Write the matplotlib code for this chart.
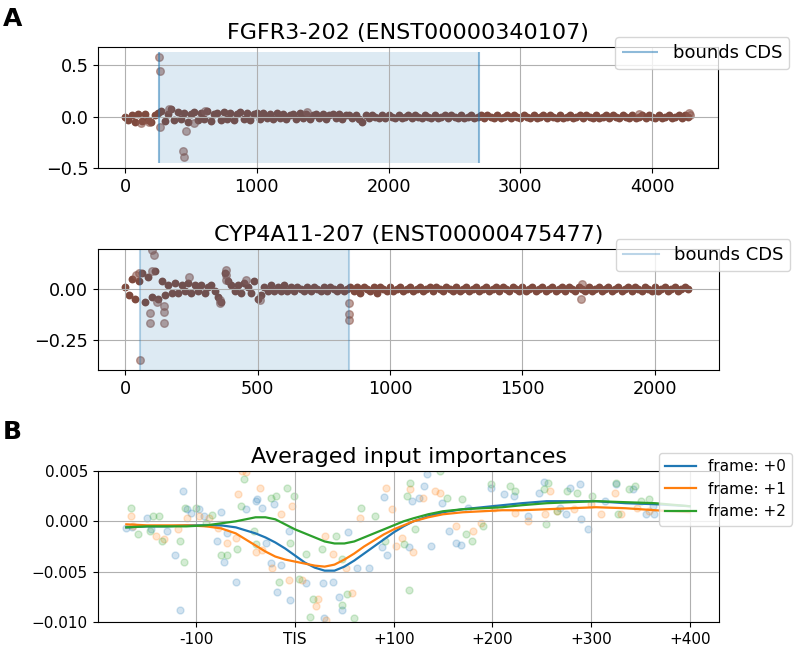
import matplotlib
matplotlib.use("Agg")
import matplotlib.pyplot as plt
import numpy as np

# ---- panel A, top: FGFR3-202 ----
TITLE_A1 = "FGFR3-202 (ENST00000340107)"
A1_STEP = 25
A1_BAND = [0.00, -0.03, 0.01, -0.05, 0.02, -0.04, 0.02, -0.03, -0.05, 0.01,
           0.03, 0.05, -0.04, 0.02, 0.07, -0.03, 0.04, -0.02, 0.03, -0.05,
           0.02, 0.04, -0.03, 0.03, -0.02, 0.05, -0.04, 0.02, 0.03, -0.03,
           0.04, -0.02, 0.03, -0.03, 0.02, 0.04, -0.02, 0.03, -0.03, 0.02,
           0.03, -0.02, 0.03, -0.01, 0.02, -0.02, 0.03, -0.01, 0.02, -0.02,
           0.01, 0.02, -0.02, 0.03, -0.01, 0.02, -0.02, 0.01, 0.02, -0.01,
           0.02, -0.02, 0.01, 0.02, -0.01, 0.02, -0.02, 0.01, 0.01, -0.01,
           0.01, -0.02, -0.05, 0.01, -0.01, 0.01, 0.00, -0.01, 0.01, -0.01,
           0.01, 0.00, -0.01, 0.01, -0.01, 0.00, 0.01, -0.01, 0.01, 0.00,
           -0.01, 0.01, 0.00, -0.01, 0.01, -0.01, 0.00, 0.01, -0.01, 0.01,
           0.00, -0.01, 0.01, -0.01, 0.00, 0.01, -0.01, 0.00, 0.01, -0.01,
           0.01, 0.00, -0.01, 0.01, -0.01, 0.00, 0.01, -0.01, 0.01, 0.00,
           -0.01, 0.01, 0.00, -0.01, 0.01, -0.01, 0.00, 0.01, -0.01, 0.01,
           0.00, -0.01, 0.01, -0.01, 0.00, 0.01, -0.01, 0.00, 0.01, -0.01,
           0.01, 0.00, -0.01, 0.01, -0.01, 0.00, 0.01, -0.01, 0.01, 0.00,
           -0.01, 0.01, 0.00, -0.01, 0.01, -0.01, 0.00, 0.01, -0.01, 0.01,
           0.00, -0.01, 0.01, -0.01, 0.00, 0.01, -0.01, 0.00, 0.01, -0.01,
           0.01, 0.00]
A1_OUT_X = [258, 262, 265, 440, 445, 460, 120, 180, 330, 520, 610, 1380, 4280, 4290, 3900]
A1_OUT_Y = [0.58, 0.45, -0.10, -0.34, -0.40, -0.145, -0.06, -0.05, 0.07, -0.06, 0.05, 0.04, 0.03, 0.01, 0.02]
A1_CDS = [258, 2684]
A1_SHADE = [-0.45, 0.627]

# ---- panel A, bottom: CYP4A11-207 ----
TITLE_A2 = "CYP4A11-207 (ENST00000475477)"
A2_STEP = 12.5
A2_BAND = [0.01, -0.03, 0.05, -0.05, 0.04, 0.08, -0.06, 0.06, -0.04, 0.09,
           -0.05, 0.04, -0.03, 0.02, -0.02, 0.03, -0.02, 0.02, -0.01, 0.03,
           -0.02, 0.02, -0.01, 0.02, -0.02, 0.01, 0.02, -0.01, -0.04, -0.06,
           0.08, 0.04, 0.02, -0.01, 0.02, -0.02, 0.03, 0.01, -0.02, 0.04,
           -0.05, -0.03, 0.01, -0.01, 0.02, -0.01, 0.01, -0.01, 0.02, -0.01,
           0.01, -0.01, 0.01, 0.00, -0.01, 0.01, -0.01, 0.01, 0.00, -0.01,
           0.01, -0.01, 0.01, 0.00, -0.01, 0.01, -0.01, 0.00, 0.01, -0.01,
           0.01, -0.02, 0.01, 0.00, -0.01, 0.01, -0.02, 0.01, 0.00, -0.01,
           0.01, -0.01, 0.00, 0.01, -0.01, 0.00, 0.01, -0.01, 0.00, 0.01,
           -0.01, 0.00, 0.01, -0.01, 0.01, 0.00, -0.01, 0.01, 0.00, -0.01,
           0.01, -0.01, 0.00, 0.01, -0.01, 0.00, 0.01, -0.01, 0.00, 0.01,
           -0.01, 0.00, 0.01, -0.01, 0.01, 0.00, -0.01, 0.01, 0.00, -0.01,
           0.01, -0.01, 0.00, 0.01, -0.01, 0.00, 0.01, -0.01, 0.00, 0.01,
           -0.01, 0.00, 0.01, -0.01, 0.01, 0.00, -0.01, 0.01, 0.00, -0.01,
           0.01, -0.01, 0.00, 0.01, -0.01, 0.00, 0.01, -0.01, 0.00, 0.01,
           -0.01, 0.00, 0.01, -0.01, 0.01, 0.00, -0.01, 0.01, 0.00, -0.01,
           0.01, -0.01, 0.00, 0.01, -0.01, 0.00, 0.01, -0.01, 0.00, 0.01,
           0.00]
A2_OUT_X = [100, 108, 93, 93, 146, 146, 146, 57, 240, 379, 379, 379, 358, 358,
            456, 509, 845, 845, 845, 52, 100, 1724, 1722, 40, 120]
A2_OUT_Y = [0.194, 0.169, -0.118, -0.168, -0.082, -0.11, -0.168, -0.349, 0.062,
            0.095, 0.071, 0.046, -0.053, -0.069, 0.045, -0.053, -0.066, -0.122,
            -0.151, 0.08, 0.09, 0.026, -0.048, 0.07, -0.06]
A2_CDS = [54, 846]

# ---- panel B: averaged input importances ----
B_TICKS = [-100, 0, 100, 200, 300, 400]
B_TICK_LABELS = ["-100", "TIS", "+100", "+200", "+300", "+400"]
B_LABELS = ["frame: +0", "frame: +1", "frame: +2"]

CURVE_X = [-171, -150, -130, -110, -90, -75, -60, -50, -40, -30, -20, -10, 0,
           10, 20, 30, 40, 50, 60, 70, 80, 90, 100, 110, 120, 135, 150, 170,
           190, 210, 230, 255, 280, 305, 335, 365, 400]
CURVE_0 = [-0.0006, -0.0005, -0.0005, -0.0004, -0.0004, -0.0004, -0.0006, -0.0009,
           -0.0012, -0.0016, -0.0021, -0.0027, -0.0034, -0.0041, -0.0046, -0.0049,
           -0.0049, -0.0045, -0.0039, -0.0032, -0.0025, -0.0018, -0.0011, -0.0005,
           0.0000, 0.0005, 0.0009, 0.0012, 0.0014, 0.0016, 0.0018, 0.0020, 0.0020,
           0.0020, 0.0018, 0.0017, 0.0015]
CURVE_1 = [-0.0003, -0.0004, -0.0004, -0.0004, -0.0005, -0.0007, -0.0012, -0.0018,
           -0.0024, -0.0030, -0.0035, -0.0038, -0.0040, -0.0042, -0.0044, -0.0045,
           -0.0043, -0.0038, -0.0032, -0.0025, -0.0019, -0.0013, -0.0008, -0.0004,
           0.0000, 0.0004, 0.0007, 0.0009, 0.0010, 0.0011, 0.0011, 0.0012, 0.0013,
           0.0014, 0.0013, 0.0011, 0.0009]
CURVE_2 = [-0.0006, -0.0005, -0.0005, -0.0005, -0.0004, -0.0002, 0.0000, 0.0002,
           0.0004, 0.0004, 0.0002, -0.0003, -0.0008, -0.0012, -0.0016, -0.0020,
           -0.0022, -0.0022, -0.0020, -0.0016, -0.0012, -0.0008, -0.0004, 0.0000,
           0.0003, 0.0007, 0.0010, 0.0012, 0.0013, 0.0014, 0.0016, 0.0018, 0.0019,
           0.0020, 0.0019, 0.0018, 0.0015]

PTS0_X = [-171, -165, -150, -146, -130, -122, -117, -114, -110, -105, -97, -92, -79,
          -75, -72, -69, -60, -50, -40, -39, -33, -29, -24, -21, -18, -14, -6, -5,
          11, 28, 29, 38, 45, 48, 54, 63, 75, 88, 90, 93, 116, 119, 126, 131, 134,
          138, 149, 156, 163, 168, 175, 199, 212, 222, 236, 247, 252, 269, 275,
          279, 289, 290, 297, 314, 325, 343, 356, 363, 364]
PTS0_Y = [-0.0007, -0.0006, 0.0003, -0.0008, -0.0010, -0.0033, -0.0088, 0.0030,
          0.0012, 0.0008, 0.0012, 0.0005, -0.0020, 0.0009, -0.0040, -0.0012,
          -0.0060, 0.0012, 0.0020, 0.0022, 0.0013, -0.0022, -0.0041, 0.0017,
          -0.0070, -0.0043, -0.0010, -0.0078, -0.0061, -0.0061, -0.0096, -0.0060,
          -0.0075, -0.0088, -0.0011, -0.0046, -0.0046, -0.0026, 0.0024, -0.0033,
          -0.0026, 0.0020, 0.0023, 0.0035, 0.0047, -0.0025, 0.0018, -0.0010,
          -0.0022, -0.0024, 0.0013, 0.0033, 0.0027, 0.0025, 0.0005, 0.0028,
          0.0039, 0.0013, 0.0007, 0.0033, 0.0037, 0.0002, -0.0008, 0.0020,
          0.0037, 0.0032, 0.0007, 0.0015, 0.0007]
PTS1_X = [-166, -164, -141, -133, -119, -110, -97, -87, -78, -69, -60, -58, -54,
          -50, -40, -36, -33, -23, -14, -6, -3, 7, 21, 23, 30, 31, 38, 52, 58,
          66, 92, 98, 102, 108, 117, 120, 130, 142, 147, 163, 180, 188, 202, 223,
          236, 253, 258, 266, 283, 300, 310, 324, 330, 347, 359]
PTS1_Y = [0.0005, -0.0005, -0.0015, -0.0018, -0.0008, 0.0003, 0.0005, 0.0003,
          -0.0007, -0.0022, -0.0017, 0.0027, 0.0050, 0.0049, -0.0030, 0.0033,
          -0.0028, -0.0046, 0.0007, -0.0058, 0.0015, -0.0058, -0.0084, -0.0077,
          -0.0015, -0.0098, -0.0032, -0.0046, -0.0071, 0.0003, 0.0033, 0.0012,
          -0.0025, -0.0017, 0.0032, -0.0030, 0.0023, 0.0030, 0.0028, -0.0005,
          -0.0010, -0.0002, 0.0013, 0.0008, 0.0000, 0.0007, 0.0030, 0.0010,
          0.0012, 0.0017, 0.0007, 0.0028, 0.0007, 0.0013, 0.0010]
PTS2_X = [-166, -159, -147, -144, -138, -135, -117, -113, -112, -100, -90, -84,
          -75, -69, -59, -55, -52, -42, -40, -24, -19, -16, -8, -5, -1, 4, 11,
          15, 18, 27, 42, 48, 48, 53, 60, 67, 81, 91, 110, 113, 116, 117, 122,
          147, 154, 169, 173, 179, 191, 199, 218, 223, 252, 254, 256, 266, 276,
          286, 301, 325, 327, 338, 345, 351, 359]
PTS2_Y = [0.0013, -0.0013, -0.0010, 0.0005, 0.0005, -0.0020, -0.0020, -0.0040,
          0.0013, 0.0013, -0.0002, 0.0006, -0.0033, -0.0033, -0.0027, 0.0015,
          0.0042, -0.0010, -0.0023, 0.0023, 0.0025, -0.0060, 0.0033, -0.0022,
          0.0025, -0.0057, -0.0032, -0.0095, -0.0077, -0.0027, -0.0015, -0.0037,
          -0.0083, -0.0072, -0.0096, 0.0013, 0.0005, -0.0020, -0.0023, 0.0025,
          -0.0068, 0.0038, -0.0008, 0.0050, 0.0023, 0.0022, -0.0013, -0.0020,
          -0.0005, 0.0037, 0.0035, 0.0030, 0.0032, -0.0003, 0.0038, 0.0010,
          0.0030, 0.0028, 0.0025, 0.0038, 0.0007, 0.0032, 0.0035, 0.0020, 0.0022]

BROWN = "#7f4a3e"
BLUE = "tab:blue"

fig = plt.figure(figsize=(7.97, 6.49), dpi=100)


def cds_panel(ax, band, step, out_x, out_y, title):
  xs = np.arange(len(band)) * step
  # the dense per-nucleotide band, opaque so it reads as one strip
  ax.scatter(xs, band, s=32, color=BROWN, linewidths=0)
  ax.scatter(out_x, out_y, s=30, color="tab:brown", alpha=0.55)
  ax.set_title(title, fontsize=16)
  ax.grid(True)
  ax.tick_params(labelsize=12.7)
  return ax


ax1 = fig.add_axes([0.123, 0.7411, 0.778, 0.1865])
cds_panel(ax1, A1_BAND, A1_STEP, A1_OUT_X, A1_OUT_Y, TITLE_A1)
ax1.fill_between(A1_CDS, A1_SHADE[0], A1_SHADE[1], color=BLUE, alpha=0.15, lw=0)
ax1.vlines(A1_CDS, A1_SHADE[0], A1_SHADE[1], color=BLUE, alpha=0.5, lw=1.5, label="bounds CDS")
ax1.set_xlim(-205, 4500)
ax1.set_ylim(-0.504, 0.68)
ax1.set_xticks([0, 1000, 2000, 3000, 4000])
ax1.set_yticks([-0.5, 0.0, 0.5])
ax1.legend(loc="upper right", bbox_to_anchor=(1.115, 1.083), borderaxespad=0, fontsize=13)

ax2 = fig.add_axes([0.123, 0.4299, 0.779, 0.1864])
cds_panel(ax2, A2_BAND, A2_STEP, A2_OUT_X, A2_OUT_Y, TITLE_A2)
ax2.axvspan(A2_CDS[0], A2_CDS[1], color=BLUE, alpha=0.15, lw=0)
for i, b in enumerate(A2_CDS):
  ax2.axvline(b, color=BLUE, alpha=0.3, lw=1.5, label="bounds CDS" if i == 0 else None)
ax2.set_xlim(-103, 2242)
ax2.set_ylim(-0.398, 0.199)
ax2.set_xticks([0, 500, 1000, 1500, 2000])
ax2.set_yticks([-0.25, 0.0])
ax2.legend(loc="upper right", bbox_to_anchor=(1.115, 1.083), borderaxespad=0, fontsize=13)

ax3 = fig.add_axes([0.1226, 0.0416, 0.7799, 0.2327])
for px, py, c in [(PTS0_X, PTS0_Y, "C0"), (PTS1_X, PTS1_Y, "C1"), (PTS2_X, PTS2_Y, "C2")]:
  ax3.scatter(px, py, s=25, color=c, alpha=0.2)
for cy, c, lab in [(CURVE_0, "C0", B_LABELS[0]), (CURVE_1, "C1", B_LABELS[1]), (CURVE_2, "C2", B_LABELS[2])]:
  ax3.plot(CURVE_X, cy, color=c, lw=1.6, label=lab)
ax3.set_title("Averaged input importances", fontsize=16)
ax3.set_xticks(B_TICKS)
ax3.set_xticklabels(B_TICK_LABELS)
ax3.set_yticks([-0.010, -0.005, 0.000, 0.005])
ax3.set_xlim(-200, 430)
ax3.set_ylim(-0.010, 0.005)
ax3.grid(True)
ax3.tick_params(labelsize=11)
ax3.legend(loc="upper right", bbox_to_anchor=(1.117, 1.119), borderaxespad=0, fontsize=11)

fig.text(0.004, 0.96, "A", fontsize=18, fontweight="bold")
fig.text(0.004, 0.3236, "B", fontsize=18, fontweight="bold")

fig.savefig("out.png", dpi=100)
